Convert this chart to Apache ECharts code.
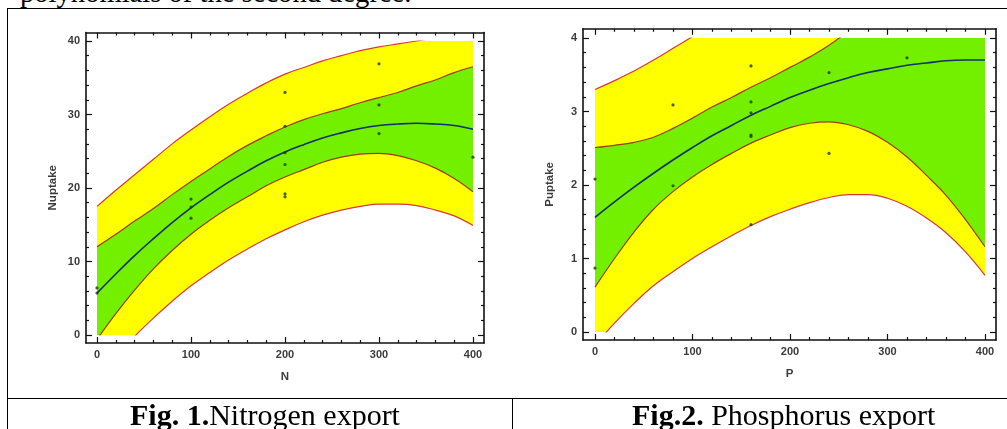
<!DOCTYPE html>
<html>
<head>
<meta charset="utf-8">
<script src="https://cdn.jsdelivr.net/npm/echarts@6/dist/echarts.min.js"></script>
<style>
html, body { margin: 0; padding: 0; background: #fff; }
#page { position: relative; width: 1007px; height: 429px; overflow: hidden; background: #fff; }
#chart { position: absolute; left: 0; top: 0; width: 1007px; height: 429px; }
.rule { position: absolute; background: #000; }
.txt { position: absolute; font-family: 'Liberation Serif', 'Times New Roman', serif; color: #000; white-space: nowrap; line-height: 1; }
</style>
</head>
<body>
<div id="page">
  <div class="txt" style="left:20px;top:-21px;font-size:28.6px;">polynomials of the second degree.</div>
  <div class="rule" style="left:7px;top:8px;width:1000px;height:1px;"></div>
  <div class="rule" style="left:7px;top:8px;width:1px;height:421px;"></div>
  <div class="rule" style="left:7px;top:398px;width:1000px;height:1px;"></div>
  <div class="rule" style="left:512px;top:398px;width:1px;height:31px;"></div>
  <div id="chart"></div>
  <div class="txt" style="left:130px;top:400px;font-size:30px;"><b>Fig. 1.</b>Nitrogen export</div>
  <div class="txt" style="left:632px;top:400px;font-size:30px;"><b>Fig.2.</b> Phosphorus export</div>
</div>
<script>
// ---- Fig. 1, nitrogen ----
var nCurveX = [0, 20, 40, 60, 80, 100, 120, 140, 160, 180, 200, 220, 240, 260, 280, 300, 320, 340, 360, 380, 400];
var nFit      = [5.7, 8.3, 10.8, 13.1, 15.3, 17.3, 19.1, 20.8, 22.3, 23.7, 24.9, 25.9, 26.8, 27.5, 28.1, 28.5, 28.7, 28.8, 28.7, 28.5, 28.0];
var nConfHigh = [12.0, 13.7, 15.5, 17.2, 19.1, 20.9, 22.6, 24.3, 25.8, 27.1, 28.3, 29.3, 30.1, 30.8, 31.6, 32.3, 33.0, 33.9, 34.7, 35.7, 36.5];
var nConfLow  = [-0.6, 2.9, 6.1, 9.0, 11.5, 13.7, 15.6, 17.3, 18.8, 20.3, 21.5, 22.5, 23.5, 24.2, 24.6, 24.7, 24.4, 23.7, 22.7, 21.3, 19.5];
var nPredHigh = [17.5, 19.7, 21.8, 23.9, 26.0, 27.9, 29.7, 31.4, 32.9, 34.3, 35.5, 36.4, 37.3, 38.0, 38.7, 39.2, 39.6, 40.0, 40.4, 40.8, 41.1];
var nPredLow  = [-6.1, -3.1, -0.2, 2.3, 4.6, 6.7, 8.5, 10.2, 11.7, 13.1, 14.3, 15.4, 16.3, 17.0, 17.5, 17.8, 17.8, 17.6, 17.0, 16.2, 14.9];
var nObsX = [0, 0, 100, 100, 100, 200, 200, 200, 200, 200, 200, 300, 300, 300, 400];
var nObsY = [6.4, 5.7, 18.5, 17.4, 15.9, 33.0, 28.4, 24.8, 23.2, 19.2, 18.8, 36.9, 31.3, 27.4, 24.2];
var nXTicks = [0, 100, 200, 300, 400];
var nXMinor = [20, 40, 60, 80, 120, 140, 160, 180, 220, 240, 260, 280, 320, 340, 360, 380];
var nYTicks = [0, 10, 20, 30, 40];
var nYMinor = [2, 4, 6, 8, 12, 14, 16, 18, 22, 24, 26, 28, 32, 34, 36, 38];

// ---- Fig. 2, phosphorus ----
var pCurveX = [0, 20, 40, 60, 80, 100, 120, 140, 160, 180, 200, 220, 240, 260, 280, 300, 320, 340, 360, 380, 400];
var pFit      = [1.56, 1.77, 1.97, 2.16, 2.34, 2.51, 2.67, 2.81, 2.95, 3.07, 3.19, 3.29, 3.38, 3.46, 3.53, 3.58, 3.63, 3.66, 3.69, 3.70, 3.70];
var pConfHigh = [2.51, 2.54, 2.58, 2.65, 2.77, 2.91, 3.06, 3.19, 3.33, 3.46, 3.60, 3.74, 3.90, 4.10, 4.33, 4.58, 4.88, 5.19, 5.52, 5.87, 6.24];
var pConfLow  = [0.61, 1.00, 1.36, 1.67, 1.91, 2.11, 2.28, 2.43, 2.57, 2.68, 2.78, 2.84, 2.86, 2.82, 2.73, 2.58, 2.38, 2.13, 1.86, 1.53, 1.16];
var pPredHigh = [3.30, 3.42, 3.55, 3.70, 3.86, 4.02, 4.18, 4.32, 4.46, 4.58, 4.70, 4.81, 4.93, 5.05, 5.19, 5.35, 5.55, 5.78, 6.03, 6.31, 6.63];
var pPredLow  = [-0.18, 0.12, 0.39, 0.63, 0.82, 1.00, 1.16, 1.31, 1.45, 1.57, 1.67, 1.76, 1.83, 1.87, 1.87, 1.82, 1.71, 1.55, 1.35, 1.09, 0.77];
var pObsX = [0, 0, 80, 80, 160, 160, 160, 160, 160, 160, 240, 240, 320];
var pObsY = [2.08, 0.87, 3.09, 1.99, 3.62, 3.13, 2.98, 2.68, 2.66, 1.46, 3.53, 2.43, 3.73];
var pXTicks = [0, 100, 200, 300, 400];
var pXMinor = [20, 40, 60, 80, 120, 140, 160, 180, 220, 240, 260, 280, 320, 340, 360, 380];
var pYTicks = [0, 1, 2, 3, 4];
var pYMinor = [0.2, 0.4, 0.6, 0.8, 1.2, 1.4, 1.6, 1.8, 2.2, 2.4, 2.6, 2.8, 3.2, 3.4, 3.6, 3.8];

var YELLOW = '#ffff00', GREEN = '#72f000';
var labelFont = { color: '#3c3c3c', fontSize: 11, fontWeight: 'bold', fontFamily: 'Liberation Sans, Arial, sans-serif' };

var myChart = echarts.init(document.getElementById('chart'));
var option = { animation: false, grid: [], xAxis: [], yAxis: [], series: [] };

function zip(xs, ys) {
    return xs.map(function (x, i) { return [x, ys[i]]; });
}

// one side of the boxed frame: major or minor ticks, inward
function frameAxis(gridIndex, position, min, max, ticks, major, withLabels, name, gap) {
    return {
        type: 'value', gridIndex: gridIndex, position: position, min: min, max: max,
        axisLine: { show: major, onZero: false, lineStyle: { color: '#111', width: 1.6 } },
        axisTick: { show: true, inside: true, length: major ? 6 : 3, customValues: ticks, lineStyle: { color: '#111', width: 1.2 } },
        axisLabel: Object.assign({ show: withLabels, customValues: ticks, margin: 6 }, labelFont),
        splitLine: { show: false },
        name: name, nameLocation: 'middle', nameGap: gap,
        nameTextStyle: Object.assign({}, labelFont, { fontSize: 11.5 })
    };
}

function addPanel(p) {
    var fg = option.grid.length;
    var pxX = p.box.w / (p.xr[1] - p.xr[0]);
    var pxY = p.box.h / (p.yr[1] - p.yr[0]);
    // frame grid (axes box) and data grid (clip region of the bands)
    option.grid.push({ left: p.box.x - p.pad[3], top: p.box.y - p.pad[0],
        width: p.box.w + p.pad[1] + p.pad[3], height: p.box.h + p.pad[0] + p.pad[2] });
    option.grid.push({ left: p.box.x, top: p.box.y, width: p.box.w, height: p.box.h });
    var xMin = p.xr[0] - p.pad[3] / pxX, xMax = p.xr[1] + p.pad[1] / pxX;
    var yMin = p.yr[0] - p.pad[2] / pxY, yMax = p.yr[1] + p.pad[0] / pxY;

    var fx = option.xAxis.length, fy = option.yAxis.length;
    option.xAxis.push(frameAxis(fg, 'bottom', xMin, xMax, p.xTicks, true, true, p.xName, 28));
    option.xAxis.push(frameAxis(fg, 'bottom', xMin, xMax, p.xMinor, false, false, '', 0));
    option.xAxis.push(frameAxis(fg, 'top', xMin, xMax, p.xTicks, true, false, '', 0));
    option.xAxis.push(frameAxis(fg, 'top', xMin, xMax, p.xMinor, false, false, '', 0));
    option.yAxis.push(frameAxis(fg, 'left', yMin, yMax, p.yTicks, true, true, p.yName, 27));
    option.yAxis.push(frameAxis(fg, 'left', yMin, yMax, p.yMinor, false, false, '', 0));
    option.yAxis.push(frameAxis(fg, 'right', yMin, yMax, p.yTicks, true, false, '', 0));
    option.yAxis.push(frameAxis(fg, 'right', yMin, yMax, p.yMinor, false, false, '', 0));

    var dx = option.xAxis.length, dy = option.yAxis.length;
    option.xAxis.push({ type: 'value', gridIndex: fg + 1, min: p.xr[0], max: p.xr[1], show: false });
    option.yAxis.push({ type: 'value', gridIndex: fg + 1, min: p.yr[0], max: p.yr[1], show: false });

    var c = p.curves;
    // bands painted from the top curve down, each filled to the axis floor
    [[c.predHigh, YELLOW], [c.confHigh, GREEN], [c.confLow, YELLOW], [c.predLow, '#ffffff']].forEach(function (l) {
        option.series.push({
            type: 'line', xAxisIndex: dx, yAxisIndex: dy,
            data: zip(c.x, l[0]), smooth: 0.4, symbol: 'none', clip: true, silent: true, z: 1,
            lineStyle: { width: 0, opacity: 0 },
            areaStyle: { color: l[1], opacity: 1, origin: 'start' }
        });
    });
    [[c.predLow, '#d8383c'], [c.confLow, '#9a3c14'], [c.confHigh, '#9a3c14'], [c.predHigh, '#d8383c']].forEach(function (b) {
        option.series.push({
            type: 'line', xAxisIndex: dx, yAxisIndex: dy, data: zip(c.x, b[0]),
            smooth: 0.4, symbol: 'none', clip: true, silent: true, z: 2,
            lineStyle: { color: b[1], width: 1.2 }
        });
    });
    option.series.push({
        type: 'line', xAxisIndex: dx, yAxisIndex: dy, data: zip(c.x, c.fit),
        smooth: 0.4, symbol: 'none', clip: true, silent: true, z: 3,
        lineStyle: { color: '#13306a', width: 1.6 }
    });
    option.series.push({
        type: 'scatter', xAxisIndex: fx, yAxisIndex: fy, data: zip(p.obs[0], p.obs[1]),
        symbolSize: 3.2, silent: true, z: 4, itemStyle: { color: '#1c3a1c' }
    });
}

addPanel({
    box: { x: 97, y: 41, w: 376, h: 294 }, pad: [8.5, 11, 8, 11],
    xr: [0, 400], yr: [0, 40],
    xTicks: nXTicks, xMinor: nXMinor, yTicks: nYTicks, yMinor: nYMinor,
    xName: 'N', yName: 'Nuptake',
    curves: { x: nCurveX, fit: nFit, confLow: nConfLow, confHigh: nConfHigh, predLow: nPredLow, predHigh: nPredHigh },
    obs: [nObsX, nObsY]
});
addPanel({
    box: { x: 595, y: 38, w: 390, h: 294 }, pad: [9.2, 11, 8, 12],
    xr: [0, 400], yr: [0, 4],
    xTicks: pXTicks, xMinor: pXMinor, yTicks: pYTicks, yMinor: pYMinor,
    xName: 'P', yName: 'Puptake',
    curves: { x: pCurveX, fit: pFit, confLow: pConfLow, confHigh: pConfHigh, predLow: pPredLow, predHigh: pPredHigh },
    obs: [pObsX, pObsY]
});

myChart.setOption(option);
</script>
</body>
</html>
